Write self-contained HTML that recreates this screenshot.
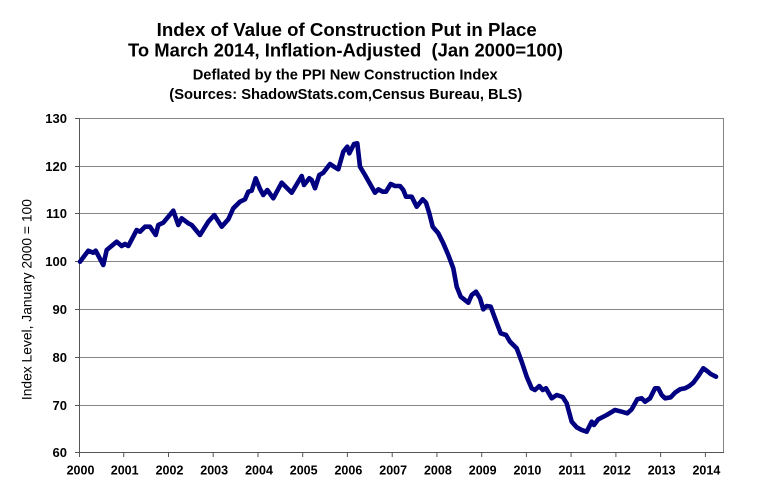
<!DOCTYPE html>
<html>
<head>
<meta charset="utf-8">
<style>
  html,body{margin:0;padding:0;background:#fff;}
  svg{display:block;}
  text{font-family:"Liberation Sans",Arial,sans-serif;fill:#000;}
</style>
</head>
<body>
<svg width="763" height="501" viewBox="0 0 763 501" xmlns="http://www.w3.org/2000/svg">
  <rect x="0" y="0" width="763" height="501" fill="#fff"/>

  <!-- Titles -->
  <text x="156.7" y="36" font-size="18.5" font-weight="bold" textLength="380" lengthAdjust="spacingAndGlyphs">Index of Value of Construction Put in Place</text>
  <text x="128" y="56.5" font-size="18.5" font-weight="bold" textLength="435" lengthAdjust="spacingAndGlyphs" xml:space="preserve">To March 2014, Inflation-Adjusted  (Jan 2000=100)</text>
  <text x="192.7" y="79.3" font-size="15" font-weight="bold" textLength="305" lengthAdjust="spacingAndGlyphs">Deflated by the PPI New Construction Index</text>
  <text x="169.3" y="98.8" font-size="15" font-weight="bold" textLength="353" lengthAdjust="spacingAndGlyphs">(Sources: ShadowStats.com,Census Bureau, BLS)</text>

  <!-- Grid lines -->
  <g stroke="#858585" stroke-width="1" fill="none">
    <line x1="79" y1="118.5" x2="724" y2="118.5"/>
    <line x1="79" y1="166.5" x2="724" y2="166.5"/>
    <line x1="79" y1="213.5" x2="724" y2="213.5"/>
    <line x1="79" y1="261.5" x2="724" y2="261.5"/>
    <line x1="79" y1="309.5" x2="724" y2="309.5"/>
    <line x1="79" y1="357.5" x2="724" y2="357.5"/>
    <line x1="79" y1="405.5" x2="724" y2="405.5"/>
    <line x1="723.5" y1="118" x2="723.5" y2="453"/>
  </g>

  <!-- Axes -->
  <g stroke="#555" stroke-width="1" fill="none">
    <line x1="79.5" y1="118" x2="79.5" y2="453"/>
    <line x1="79" y1="452.5" x2="724" y2="452.5"/>
    <!-- y ticks -->
    <line x1="75" y1="118.5" x2="79" y2="118.5"/>
    <line x1="75" y1="166.5" x2="79" y2="166.5"/>
    <line x1="75" y1="213.5" x2="79" y2="213.5"/>
    <line x1="75" y1="261.5" x2="79" y2="261.5"/>
    <line x1="75" y1="309.5" x2="79" y2="309.5"/>
    <line x1="75" y1="357.5" x2="79" y2="357.5"/>
    <line x1="75" y1="405.5" x2="79" y2="405.5"/>
    <line x1="75" y1="452.5" x2="79" y2="452.5"/>
    <!-- x ticks -->
    <line x1="79.5" y1="452" x2="79.5" y2="457"/>
    <line x1="123.7" y1="452" x2="123.7" y2="457"/>
    <line x1="168.5" y1="452" x2="168.5" y2="457"/>
    <line x1="213.2" y1="452" x2="213.2" y2="457"/>
    <line x1="258" y1="452" x2="258" y2="457"/>
    <line x1="302.7" y1="452" x2="302.7" y2="457"/>
    <line x1="347.4" y1="452" x2="347.4" y2="457"/>
    <line x1="392.2" y1="452" x2="392.2" y2="457"/>
    <line x1="436.9" y1="452" x2="436.9" y2="457"/>
    <line x1="481.7" y1="452" x2="481.7" y2="457"/>
    <line x1="526.4" y1="452" x2="526.4" y2="457"/>
    <line x1="571.1" y1="452" x2="571.1" y2="457"/>
    <line x1="615.9" y1="452" x2="615.9" y2="457"/>
    <line x1="660.6" y1="452" x2="660.6" y2="457"/>
    <line x1="705.4" y1="452" x2="705.4" y2="457"/>
  </g>

  <!-- Y tick labels -->
  <g font-size="13" font-weight="bold" text-anchor="end">
    <text x="67" y="123.2">130</text>
    <text x="67" y="171.2">120</text>
    <text x="67" y="218.2">110</text>
    <text x="67" y="266.2">100</text>
    <text x="67" y="314.2">90</text>
    <text x="67" y="362.2">80</text>
    <text x="67" y="410.2">70</text>
    <text x="67" y="457.2">60</text>
  </g>

  <!-- X tick labels -->
  <g font-size="12.5" font-weight="bold" text-anchor="middle">
    <text x="80.5" y="474.3">2000</text>
    <text x="124.7" y="474.3">2001</text>
    <text x="169.5" y="474.3">2002</text>
    <text x="214.2" y="474.3">2003</text>
    <text x="259" y="474.3">2004</text>
    <text x="303.7" y="474.3">2005</text>
    <text x="348.4" y="474.3">2006</text>
    <text x="393.2" y="474.3">2007</text>
    <text x="437.9" y="474.3">2008</text>
    <text x="482.7" y="474.3">2009</text>
    <text x="527.4" y="474.3">2010</text>
    <text x="572.1" y="474.3">2011</text>
    <text x="616.9" y="474.3">2012</text>
    <text x="661.6" y="474.3">2013</text>
    <text x="706.4" y="474.3">2014</text>
  </g>

  <!-- Y axis title -->
  <text transform="translate(31.5,299.6) rotate(-90)" font-size="14" text-anchor="middle" textLength="201" lengthAdjust="spacingAndGlyphs">Index Level, January 2000 = 100</text>

  <!-- Data series -->
  <polyline fill="none" stroke="#000080" stroke-width="4.6" stroke-linejoin="round" stroke-linecap="round"
    points="80,261.7 88.3,250.7 93.3,252.7 95.7,250.7 103.3,265 106.7,250 116.7,241.7 121.7,246 125,244 128.3,246 136.7,230 140,231.7 145,226.7 150,226.7 155.7,235 158.3,225 163.3,222.7 173.3,210.7 178.3,225 181.7,218.3 188.3,223.3 191.7,225 200,235 208.3,221.7 214.3,215 221.7,226.7 228.3,219.3 233.3,208.3 240,201.7 245,199.3 248.3,191.7 251.7,190.7 255.7,178.3 260,189 263.3,195 267.3,190 273.3,198.3 281.7,182.7 291.7,192.7 301.7,176 304,185 309.3,178.3 311.7,180 315,188.3 319.3,175 323.3,172.7 330,164 334,166.7 338.3,169.3 343.3,151.7 347.3,146.7 349.3,153.3 354,144 357.3,143.3 360,166.7 365,175 375,192.7 378.3,189.3 382.7,191.7 386,191.7 390.7,184 395,186 400,186 403.3,190 406,196.7 411.7,196.7 416.7,206.7 422.7,199.3 426,202.7 429.3,213.3 432.7,226.7 438.3,233.3 443.3,243.3 448.3,255 453.3,268.3 456.7,286.7 460.7,296.7 468.3,302.7 471.7,295 476,291.7 480,298.3 483.3,309.3 486.7,306 490.7,306.7 495,318.3 500.7,333.3 506,335 510,341.7 516.7,348.3 521.7,361.7 526.7,376.7 531.7,388.3 535,390 539.3,386 542.7,390 546,388.3 551.7,398.3 556.7,395 562.7,397 566.7,403.3 571.7,421.7 576.7,427.3 581.7,430 586.7,431.7 591.7,421.7 594,425 598.3,419.3 606.7,415 615,410 621.7,411.7 627.3,413.3 631.7,409.3 637.3,399.3 641.7,398.3 645,401.7 650,398.3 655,388.3 658.3,388.3 661.7,395 665,398.3 670.7,397.3 675,392.7 680,389.3 685,388.3 689.3,386 693.3,382.7 698.3,376 703.3,368.3 706.7,370.7 710.7,374 716,376.7"/>
</svg>
</body>
</html>
